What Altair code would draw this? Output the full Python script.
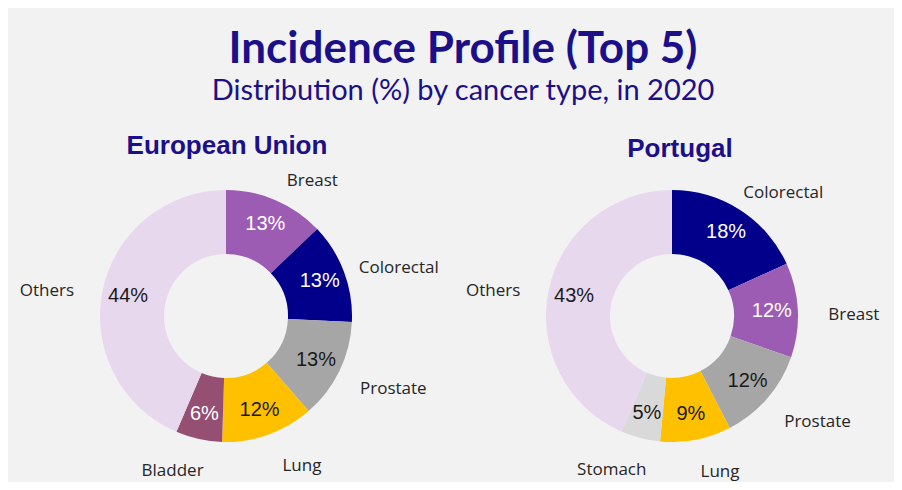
import altair as alt
import pandas as pd

# ---- data ----
regions = ["European Union", "Portugal"]
eu_types = ["Breast", "Colorectal", "Prostate", "Lung", "Bladder", "Others"]
eu_pct = [13, 13, 13, 12, 6, 44]
pt_types = ["Colorectal", "Breast", "Prostate", "Lung", "Stomach", "Others"]
pt_pct = [18, 12, 12, 9, 5, 43]

all_types = ["Breast", "Colorectal", "Prostate", "Lung", "Bladder", "Stomach", "Others"]
type_colors = ["#9d5cb3", "#02008a", "#a6a6a6", "#ffc000", "#954f72", "#d9d9d9", "#e8d8ee"]
white_label_types = ["Breast", "Colorectal", "Bladder"]

rows = []
for region, types, pcts in [(regions[0], eu_types, eu_pct), (regions[1], pt_types, pt_pct)]:
    for i, (t, p) in enumerate(zip(types, pcts)):
        rows.append({"region": region, "type": t, "pct": p, "ord": i, "label": f"{p}%"})
df = pd.DataFrame(rows)

# ---- layout (pixels in the plot area) ----
centers = {"European Union": (218, 198), "Portugal": (664, 198)}
heads = {"European Union": (219, 28), "Portugal": (672, 31)}
LABEL_RX, LABEL_RY = 182, 153
DARK = "#1c0f8a"

color_scale = alt.Scale(domain=all_types, range=type_colors)


def donut(region):
    cx, cy = centers[region]
    base = alt.Chart(df).transform_filter(alt.datum.region == region)
    theta = alt.Theta("pct:Q", stack=True)
    order = alt.Order("ord:Q", sort="ascending")
    arc = base.mark_arc(innerRadius=62, outerRadius=126).encode(
        theta=theta, order=order,
        color=alt.Color("type:N", scale=color_scale, legend=None),
        x=alt.value(cx), y=alt.value(cy),
    )
    pct_txt = base.mark_text(radius=100, font="Liberation Sans", fontSize=20).encode(
        theta=theta, order=order, text="label:N",
        color=alt.condition(alt.FieldOneOfPredicate(field="type", oneOf=white_label_types),
                            alt.value("#ffffff"), alt.value("#1a1a1a")),
        x=alt.value(cx), y=alt.value(cy),
    )
    cat_txt = (
        base.transform_window(cum="sum(pct)", sort=[alt.SortField("ord")])
        .transform_joinaggregate(total="sum(pct)")
        .transform_calculate(
            mid="(datum.cum - datum.pct / 2) / datum.total * 2 * PI",
            sx="sin(datum.mid)",
        )
        .transform_calculate(
            lx=f"{cx} + {LABEL_RX} * (datum.sx < 0 ? -1 : 1) * pow(abs(datum.sx), 0.8)",
            ly=f"{cy} - {LABEL_RY} * cos(datum.mid)",
        )
        .mark_text(font="Open Sans", fontSize=17, color="#262626", dy=6)
        .encode(text="type:N", x=alt.X("lx:Q", scale=None), y=alt.Y("ly:Q", scale=None))
    )
    hx, hy = heads[region]
    head = alt.Chart(pd.DataFrame({"name": [region]})).mark_text(
        font="Liberation Sans", fontWeight="bold", fontSize=26, color=DARK, baseline="middle"
    ).encode(text="name:N", x=alt.value(hx), y=alt.value(hy))
    return [arc, pct_txt, cat_txt, head]


layers = donut(regions[0]) + donut(regions[1])

chart = alt.layer(*layers).resolve_scale(theta="independent").properties(
    width=886,
    height=364,
    background="#f2f2f2",
    padding={"left": 0, "top": 110, "right": 0, "bottom": 0},
    autosize=alt.AutoSizeParams(type="none"),
    title=alt.TitleParams(
        text="Incidence Profile (Top 5)",
        subtitle="Distribution (%) by cancer type, in 2020",
        font="Lato", fontSize=44, fontWeight="bold", color=DARK,
        subtitleFont="Lato", subtitleFontSize=29, subtitleColor=DARK,
        subtitlePadding=5, anchor="middle", dx=12, offset=12,
    ),
).configure_view(stroke=None)

chart.save("out.html", embed_options={"renderer": "svg", "actions": False})
